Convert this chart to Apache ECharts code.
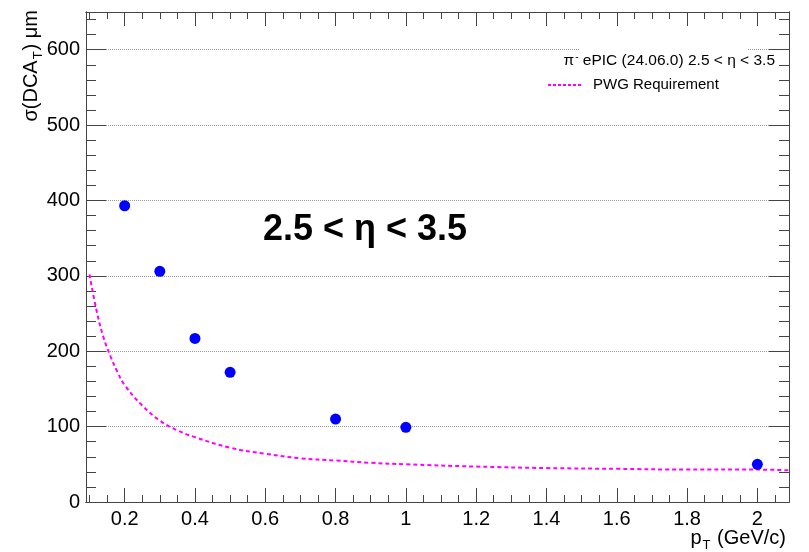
<!DOCTYPE html>
<html>
<head>
<meta charset="utf-8">
<script src="https://cdn.jsdelivr.net/npm/echarts@6/dist/echarts.min.js"></script>
<style>html,body{margin:0;padding:0;background:#fff}#c{width:809px;height:552px}</style>
</head>
<body>
<div id="c"></div>
<script>
// ---- data ----
var ptValues = [0.2, 0.3, 0.4, 0.5, 0.8, 1.0, 2.0];
var dcaValues = [393, 306, 217, 172, 110, 99, 50];
var reqPt = [0.1, 0.12, 0.14, 0.16, 0.18, 0.2, 0.25, 0.3, 0.35, 0.4, 0.5, 0.6, 0.7, 0.8, 0.9, 1.0, 1.2, 1.4, 1.6, 1.8, 2.0, 2.09];
var reqDca = [302, 254, 218, 193, 172, 155, 128, 108, 95, 86, 72, 64, 58, 55, 52, 50, 47, 45, 44, 43, 43, 42];
var xTickLabels = [0.2, 0.4, 0.6, 0.8, 1, 1.2, 1.4, 1.6, 1.8, 2];
var yTickLabels = [0, 100, 200, 300, 400, 500, 600];
var xMinorTicks = [0.1,0.15,0.2,0.25,0.3,0.35,0.4,0.45,0.5,0.55,0.6,0.65,0.7,0.75,0.8,0.85,0.9,0.95,1,1.05,1.1,1.15,1.2,1.25,1.3,1.35,1.4,1.45,1.5,1.55,1.6,1.65,1.7,1.75,1.8,1.85,1.9,1.95,2,2.05];
var yMinorTicks = [0,20,40,60,80,100,120,140,160,180,200,220,240,260,280,300,320,340,360,380,400,420,440,460,480,500,520,540,560,580,600,620,640];
var headerText = 'ePIC (24.06.0) 2.5 < η < 3.5';
var seriesName = 'PWG Requirement';
var bigLabel = '2.5 < η < 3.5';

var XMIN = 0.09, XMAX = 2.09, YMIN = 0, YMAX = 650;
var frameColor = '#444';
var font = 'Liberation Sans, Arial, Helvetica, sans-serif';

function xAx(pos, ticks, len, labels) {
  return {
    type: 'value', min: XMIN, max: XMAX, position: pos,
    axisLine: { show: true, onZero: false, lineStyle: { color: frameColor, width: 1 } },
    axisTick: { show: true, inside: true, length: len, customValues: ticks, lineStyle: { color: frameColor, width: 1 } },
    axisLabel: labels ? { show: true, customValues: ticks, fontSize: 20, color: '#000', fontFamily: font, margin: 7 } : { show: false },
    splitLine: { show: false }
  };
}
function yAx(pos, ticks, len, labels, split) {
  return {
    type: 'value', min: YMIN, max: YMAX, position: pos,
    axisLine: { show: true, onZero: false, lineStyle: { color: frameColor, width: 1 } },
    axisTick: { show: true, inside: true, length: len, customValues: ticks, lineStyle: { color: frameColor, width: 1 } },
    axisLabel: labels ? { show: true, customValues: ticks, fontSize: 20, color: '#000', fontFamily: font, margin: 6 } : { show: false },
    splitLine: split ? { show: true, lineStyle: { color: '#999', type: [1, 1], width: 1 } } : { show: false },
    interval: 100
  };
}

var chart = echarts.init(document.getElementById('c'), null, { renderer: 'canvas' });
chart.setOption({
  animation: false,
  backgroundColor: '#fff',
  grid: { left: 86, right: 20, top: 12, bottom: 50, containLabel: false },
  xAxis: [
    xAx('bottom', xTickLabels, 14, true),
    xAx('bottom', xMinorTicks, 7, false),
    xAx('top', xTickLabels, 14, false),
    xAx('top', xMinorTicks, 7, false)
  ],
  yAxis: [
    yAx('left', yTickLabels, 20, true, true),
    yAx('left', yMinorTicks, 10, false, false),
    yAx('right', yTickLabels, 20, false, false),
    yAx('right', yMinorTicks, 10, false, false)
  ],
  series: [
    {
      name: seriesName, type: 'line', xAxisIndex: 0, yAxisIndex: 0,
      data: reqPt.map(function (x, i) { return [x, reqDca[i]]; }),
      smooth: 0.4, showSymbol: false, symbol: 'none', z: 3,
      lineStyle: { color: '#ff00ff', width: 2, type: [4, 3] },
      itemStyle: { color: '#ff00ff' }
    },
    {
      name: 'data', type: 'scatter', xAxisIndex: 0, yAxisIndex: 0,
      data: ptValues.map(function (x, i) { return [x, dcaValues[i]]; }),
      symbol: 'circle', symbolSize: 11, z: 4,
      itemStyle: { color: '#0000ff', opacity: 1 }
    }
  ],
  graphic: [
    { type: 'rect', z: 1, shape: { x: 580, y: 42, width: 168, height: 56 }, style: { fill: '#fff' }, silent: true },
    { type: 'line', z: 5, shape: { x1: 548, y1: 85, x2: 582, y2: 85 }, style: { stroke: '#ff00ff', lineWidth: 2, lineDash: [3, 2] } },
    {
      type: 'text', z: 5, x: 593, y: 85,
      style: { text: seriesName, font: '15px ' + font, fill: '#000', align: 'left', verticalAlign: 'middle' }
    },
    {
      type: 'text', z: 5, x: 775, y: 61,
      style: {
        text: '{a|π}{sup|-} {a|' + headerText + '}', align: 'right', verticalAlign: 'middle',
        rich: {
          a: { fontSize: 15.5, fontFamily: font, fill: '#000' },
          sup: { fontSize: 10, fontFamily: font, fill: '#000', padding: [0, 1, 8, 1] }
        }
      }
    },
    {
      type: 'text', z: 5, x: 365, y: 230,
      style: { text: bigLabel, font: 'bold 36px ' + font, fill: '#000', align: 'center', verticalAlign: 'middle' }
    },
    {
      type: 'text', z: 5, x: 786, y: 538,
      style: {
        text: '{a|p}{sub|T}{a| (GeV/c)}', align: 'right', verticalAlign: 'middle',
        rich: {
          a: { fontSize: 20, fontFamily: font, fill: '#000' },
          sub: { fontSize: 13, fontFamily: font, fill: '#000', padding: [14, 1, 0, 1] }
        }
      }
    },
    {
      type: 'text', z: 5, x: 31, y: 10, rotation: Math.PI / 2,
      style: {
        text: '{a|σ(DCA}{sub|T}{a|) μm}', align: 'right', verticalAlign: 'middle',
        rich: {
          a: { fontSize: 20, fontFamily: font, fill: '#000' },
          sub: { fontSize: 13, fontFamily: font, fill: '#000', padding: [14, 1, 0, 1] }
        }
      }
    }
  ]
});
</script>
</body>
</html>
